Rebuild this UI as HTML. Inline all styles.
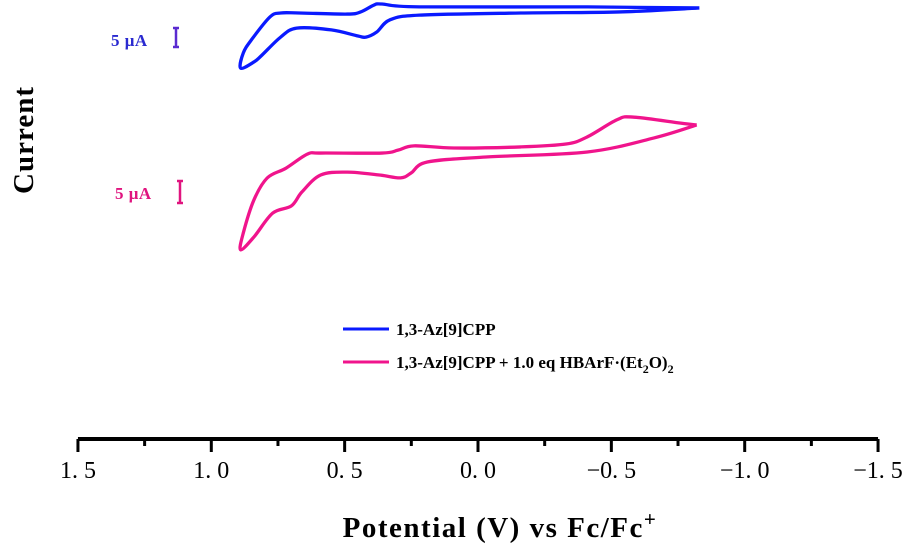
<!DOCTYPE html>
<html><head><meta charset="utf-8"><style>
body{margin:0;background:#fff;}
svg{display:block;font-family:"Liberation Serif",serif;}
</style></head><body>
<svg id="chart" width="908" height="557" viewBox="0 0 908 557">
<g id="plot"></g>
<g id="axis"></g>
<text x="33" y="140" transform="rotate(-90 33 140)" text-anchor="middle" font-size="29" font-weight="bold" letter-spacing="1">Current</text>
<text x="111" y="46" font-size="17" font-weight="bold" letter-spacing="0.5" fill="#2a2ad0">5 μA</text>
<g stroke="#5a2ad0" stroke-width="2.5"><line x1="176" y1="28" x2="176" y2="47"/><line x1="173" y1="28" x2="179" y2="28"/><line x1="173" y1="47" x2="179" y2="47"/></g>
<text x="115" y="199" font-size="17" font-weight="bold" letter-spacing="0.5" fill="#e0147f">5 μA</text>
<g stroke="#e0147f" stroke-width="2.5"><line x1="180" y1="181" x2="180" y2="203"/><line x1="177" y1="181" x2="183" y2="181"/><line x1="177" y1="203" x2="183" y2="203"/></g>
<g>
<line x1="343" y1="329" x2="389" y2="329" stroke="#0a1aff" stroke-width="3"/>
<text x="396" y="335" font-size="17" font-weight="bold">1,3-Az[9]CPP</text>
<line x1="343" y1="362" x2="389" y2="362" stroke="#f0148c" stroke-width="3"/>
<text x="396" y="368" font-size="17" font-weight="bold">1,3-Az[9]CPP + 1.0 eq HBArF·(Et<tspan font-size="12" dy="5">2</tspan><tspan dy="-5">O)</tspan><tspan font-size="12" dy="5">2</tspan></text>
</g>
<text x="500" y="537" text-anchor="middle" font-size="29" font-weight="bold" letter-spacing="1.5">Potential (V) vs Fc/Fc<tspan font-size="21" dy="-11">+</tspan></text>
</svg>
<script>
const blueV=[-0.83,-0.41,0.22,0.36,0.39,0.44,0.49,0.67,0.74,0.78,0.85,0.88,0.89,0.84,0.81,0.74,0.68,0.55,0.45,0.42,0.38,0.33,0.22,-0.16,-0.53,-0.83];
const blueI=[8.9,9.2,9.2,10,9.7,7.8,7.2,7.5,7.5,6.4,0,-3.6,-7.8,-6.1,-4.2,0.8,3.3,2.8,1.1,0.8,2.2,5.6,6.9,7.5,7.8,8.9];
const pinkV=[-0.82,-0.76,-0.58,-0.52,-0.41,-0.33,-0.16,0.09,0.24,0.30,0.36,0.59,0.64,0.72,0.79,0.84,0.88,0.89,0.84,0.77,0.70,0.66,0.59,0.49,0.37,0.29,0.25,0.19,-0.03,-0.41,-0.66,-0.82];
const pinkI=[13.9,14.4,16.1,15.3,10.6,8.6,7.8,7.5,8.1,6.9,6.1,6.1,5.8,1.9,-0.8,-6.9,-16.1,-20.8,-17.2,-10.6,-8.6,-4.7,0,0.8,0,-0.8,0.6,3.6,5.0,6.4,10.3,13.9];
const tickVals=[1.5,1.0,0.5,0.0,-0.5,-1.0,-1.5];
const tickLabels=["1. 5","1. 0","0. 5","0. 0","\u22120. 5","\u22121. 0","\u22121. 5"];
const NS="http://www.w3.org/2000/svg";
const xS=v=>478-v*266.7;
const yS=(i,off)=>off-i*3.6;
function path(V,I,off,color,name){
  const p=V.map((v,k)=>[xS(v),yS(I[k],off)]);
  let d="M"+p[0][0]+","+p[0][1];
  for(let k=0;k<p.length-1;k++){
    const p0=p[Math.max(0,k-1)],p1=p[k],p2=p[k+1],p3=p[Math.min(p.length-1,k+2)];
    const c1=[p1[0]+(p2[0]-p0[0])/6,p1[1]+(p2[1]-p0[1])/6];
    const c2=[p2[0]-(p3[0]-p1[0])/6,p2[1]-(p3[1]-p1[1])/6];
    d+=" C"+c1.join(",")+" "+c2.join(",")+" "+p2.join(",");
  }
  const el=document.createElementNS(NS,"path");
  el.setAttribute("d",d);el.setAttribute("fill","none");el.setAttribute("stroke",color);
  el.setAttribute("stroke-width","3.3");el.setAttribute("stroke-linejoin","round");
  
  
  document.getElementById("plot").appendChild(el);
}
path(blueV,blueI,40,"#0a1aff","series-blue-cv");
path(pinkV,pinkI,175,"#f0148c","series-pink-cv");
const ax=document.getElementById("axis");
const line=document.createElementNS(NS,"line");
line.setAttribute("x1",xS(1.5));line.setAttribute("x2",xS(-1.5));line.setAttribute("y1",439);line.setAttribute("y2",439);
line.setAttribute("stroke","#000");line.setAttribute("stroke-width","4");


ax.appendChild(line);
for(let n=0;n<=12;n++){
  const v=1.5-n*0.25;
  const major=n%2===0;
  const t=document.createElementNS(NS,"line");
  t.setAttribute("x1",xS(v));t.setAttribute("x2",xS(v));t.setAttribute("y1",439);t.setAttribute("y2",major?452:446);
  t.setAttribute("stroke","#000");t.setAttribute("stroke-width","3");
  
  
  ax.appendChild(t);
}
tickVals.forEach((v,k)=>{
  const t=document.createElementNS(NS,"text");
  t.setAttribute("x",xS(v));t.setAttribute("y",478);t.setAttribute("text-anchor","middle");t.setAttribute("font-size","24");
  t.textContent=tickLabels[k];
  
  
  ax.appendChild(t);
});
</script>
</body></html>
